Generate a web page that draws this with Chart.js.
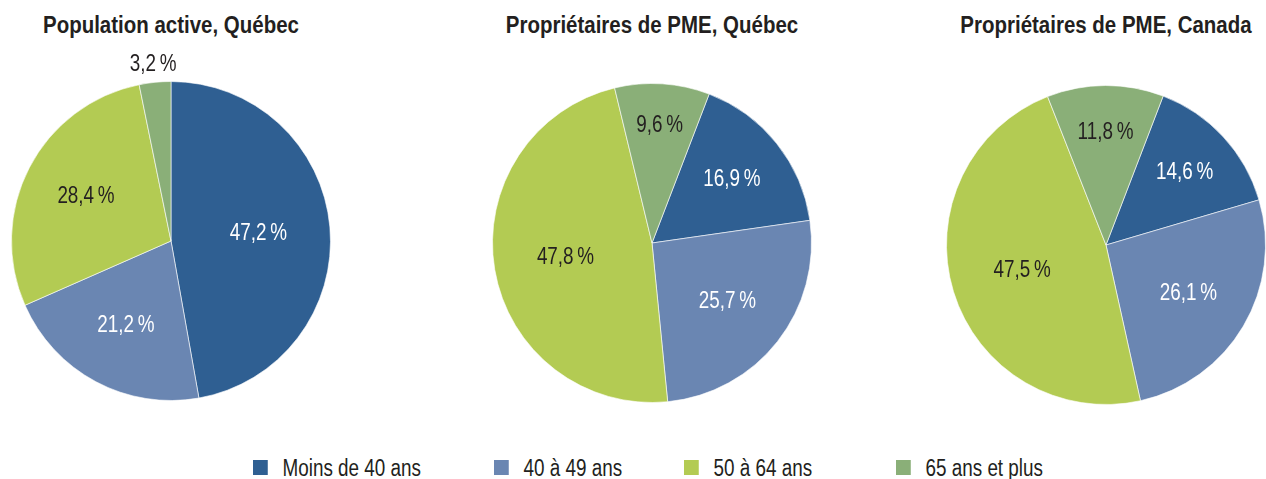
<!DOCTYPE html>
<html>
<head>
<meta charset="utf-8">
<script src="https://cdn.jsdelivr.net/npm/chart.js@4.4.1/dist/chart.umd.min.js"></script>
<style>
  html, body { margin: 0; padding: 0; background: #ffffff; }
  body { width: 1266px; height: 479px; position: relative; overflow: hidden;
         font-family: "Liberation Sans", Arial, sans-serif; }
  .title { position: absolute; top: 12px; width: 420px; text-align: center;
           font-weight: bold; font-size: 23px; color: #231f20; white-space: nowrap;
           transform: scaleX(0.89); transform-origin: 50% 50%; }
  .wrap { position: absolute; top: 0; width: 420px; height: 440px; }
  .legend { position: absolute; top: 455px; height: 26px; }
  .item { position: absolute; top: 0; white-space: nowrap; font-size: 23px; color: #231f20; line-height: 26px;
          transform: scaleX(0.82); transform-origin: 0 50%; }
  .sw { display: inline-block; width: 18px; height: 15px; vertical-align: middle; margin-right: 18px; position: relative; top: -2px; }
</style>
</head>
<body>
<script>
// ---- data ----
const categories = ["Moins de 40 ans", "40 à 49 ans", "50 à 64 ans", "65 ans et plus"];
const chartTitles = ["Population active, Québec", "Propriétaires de PME, Québec", "Propriétaires de PME, Canada"];
const popActiveQc = [47.2, 21.2, 28.4, 3.2];
const pmeQc = [16.9, 25.7, 47.8, 9.6];
const pmeCanada = [14.6, 26.1, 47.5, 11.8];

// ---- styles / layout ----
const colors = ["#2f5f92", "#6a86b2", "#b3cb53", "#8aaf78"];
const labelColors = ["#ffffff", "#ffffff", "#231f20", "#231f20"];
const pies = [
  { data: popActiveQc, cx: 171, cy: 241, rotation: 0 },
  { data: pmeQc, cx: 652, cy: 243, rotation: 21 },
  { data: pmeCanada, cx: 1106, cy: 245, rotation: 21 }
];
const R = 160;
const legendX = [253, 494, 684, 896];

const fmt = v => v.toFixed(1).replace('.', ',') + '\u2009%';

// label distance from centre (fraction of radius): smaller slices pushed outward
const labelFrac = pct => pct > 40 ? 0.55 : 0.6 + Math.max(0, 20 - pct) * 0.013;

const labelPlugin = {
  id: 'sliceLabels',
  afterDatasetsDraw(chart) {
    const ctx = chart.ctx;
    const meta = chart.getDatasetMeta(0);
    const vals = chart.data.datasets[0].data;
    meta.data.forEach((arc, i) => {
      const p = arc.getProps(['x', 'y', 'startAngle', 'endAngle', 'outerRadius'], true);
      const mid = (p.startAngle + p.endAngle) / 2;
      const small = vals[i] < 5;
      const r = small ? p.outerRadius + 18 : p.outerRadius * labelFrac(vals[i]);
      const x = p.x + Math.cos(mid) * r;
      const y = p.y + Math.sin(mid) * r;
      ctx.save();
      ctx.translate(x, y);
      ctx.scale(0.82, 1);
      ctx.font = '23px "Liberation Sans", Arial, sans-serif';
      ctx.textAlign = 'center';
      ctx.textBaseline = 'middle';
      ctx.fillStyle = small ? '#231f20' : labelColors[i];
      ctx.fillText(fmt(vals[i]), 0, 0);
      ctx.restore();
    });
  }
};

pies.forEach((pie, k) => {
  const t = document.createElement('div');
  t.className = 'title';
  t.style.left = (pie.cx - 210) + 'px';
  t.textContent = chartTitles[k];
  document.body.appendChild(t);

  const w = document.createElement('div');
  w.className = 'wrap';
  w.style.left = (pie.cx - 210) + 'px';
  const c = document.createElement('canvas');
  w.appendChild(c);
  document.body.appendChild(w);

  new Chart(c, {
    type: 'pie',
    data: {
      labels: categories,
      datasets: [{
        data: pie.data,
        backgroundColor: colors,
        borderColor: 'rgba(255,255,255,0.6)',
        borderWidth: 1
      }]
    },
    options: {
      responsive: true,
      maintainAspectRatio: false,
      animation: false,
      rotation: pie.rotation,
      layout: { padding: { top: pie.cy - R, bottom: 440 - (pie.cy + R), left: 50, right: 50 } },
      plugins: { legend: { display: false }, tooltip: { enabled: false }, title: { display: false } }
    },
    plugins: [labelPlugin]
  });
});

// legend
const lg = document.createElement('div');
lg.className = 'legend';
categories.forEach((cat, i) => {
  const it = document.createElement('div');
  it.className = 'item';
  it.style.left = legendX[i] + 'px';
  const sw = document.createElement('span');
  sw.className = 'sw';
  sw.style.background = colors[i];
  it.appendChild(sw);
  it.appendChild(document.createTextNode(cat));
  lg.appendChild(it);
});
document.body.appendChild(lg);
</script>
</body>
</html>
